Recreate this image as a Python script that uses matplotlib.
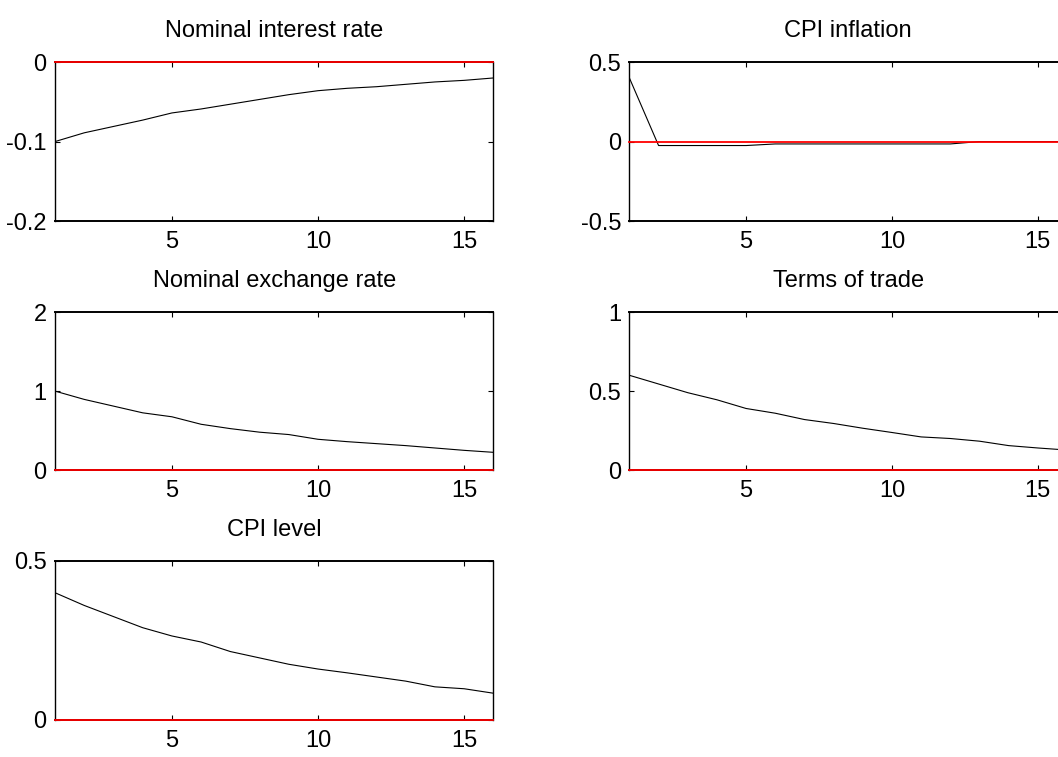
import matplotlib
matplotlib.use('Agg')
import matplotlib.pyplot as plt
from matplotlib.ticker import FuncFormatter

plt.rcParams['font.family'] = ['Liberation Sans', 'DejaVu Sans']
plt.rcParams['axes.unicode_minus'] = False

periods = list(range(1, 17))

interest_rate = [-0.100, -0.089, -0.081, -0.073, -0.064, -0.059, -0.053, -0.047,
                 -0.041, -0.036, -0.033, -0.031, -0.028, -0.025, -0.023, -0.020]
cpi_inflation = [0.40, -0.025, -0.025, -0.025, -0.025, -0.015, -0.015, -0.015,
                 -0.015, -0.015, -0.015, -0.015, 0.0, 0.0, 0.0, 0.0]
exchange_rate = [1.00, 0.895, 0.81, 0.725, 0.675, 0.58, 0.525, 0.48,
                 0.45, 0.39, 0.36, 0.335, 0.31, 0.28, 0.25, 0.225]
terms_of_trade = [0.60, 0.545, 0.49, 0.445, 0.39, 0.36, 0.32, 0.295,
                  0.265, 0.238, 0.21, 0.20, 0.183, 0.155, 0.14, 0.127]
cpi_level = [0.40, 0.36, 0.325, 0.29, 0.264, 0.245, 0.215, 0.195,
             0.175, 0.16, 0.148, 0.135, 0.122, 0.104, 0.098, 0.084]

titles = ['Nominal interest rate', 'CPI inflation', 'Nominal exchange rate',
          'Terms of trade', 'CPI level']
series = [interest_rate, cpi_inflation, exchange_rate, terms_of_trade, cpi_level]
y_limits = [(-0.2, 0), (-0.5, 0.5), (0, 2), (0, 1), (0, 0.5)]
y_ticks = [[-0.2, -0.1, 0], [-0.5, 0, 0.5], [0, 1, 2], [0, 0.5, 1], [0, 0.5]]
x_ticks = [5, 10, 15]

# axes boxes in figure fractions (left, bottom, width, height)
positions = [
    (0.052, 0.708, 0.4143, 0.210),
    (0.5949, 0.708, 0.4136, 0.210),
    (0.052, 0.379, 0.4143, 0.2087),
    (0.5949, 0.379, 0.4136, 0.2087),
    (0.052, 0.049, 0.4143, 0.210),
]

fig = plt.figure(figsize=(10.58, 7.57), dpi=100)

for pos, title, vals, ylim, yt in zip(positions, titles, series, y_limits, y_ticks):
    ax = fig.add_axes(pos)
    ax.plot(periods, vals, color='black', linewidth=0.8)
    # zero reference line
    ax.plot([periods[0], periods[-1]], [0, 0], color='red', linewidth=1.3,
            zorder=5, clip_on=False)
    ax.set_xlim(periods[0], periods[-1])
    ax.set_ylim(*ylim)
    ax.set_xticks(x_ticks)
    ax.set_yticks(yt)
    ax.yaxis.set_major_formatter(FuncFormatter(lambda v, p: '%g' % v))
    ax.tick_params(direction='in', length=3.5, width=0.8, labelsize=17,
                   top=True, right=True, pad=6)
    ax.tick_params(axis='x', pad=7)
    for s in ax.spines.values():
        s.set_linewidth(1.0)
    ax.spines['top'].set_linewidth(1.4)
    ax.spines['bottom'].set_linewidth(1.4)
    ax.set_title(title, fontsize=17, pad=18)

fig.savefig('out.png', dpi=100)
